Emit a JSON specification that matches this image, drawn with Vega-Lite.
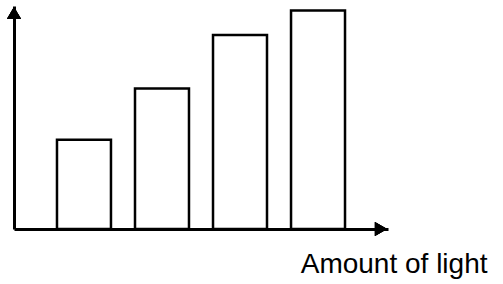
{
  "$schema": "https://vega.github.io/schema/vega-lite/v6.json",
  "width": 374,
  "height": 223,
  "autosize": "none",
  "padding": {"left": 14, "top": 6, "right": 115, "bottom": 55},
  "background": "white",
  "config": {"view": {"stroke": null}},
  "data": {"values": [
    {"condition": "A", "value": 4.0},
    {"condition": "B", "value": 6.3},
    {"condition": "C", "value": 8.7},
    {"condition": "D", "value": 9.8}
  ]},
  "layer": [
    {
      "mark": {"type": "bar", "fill": "white", "stroke": "black", "strokeWidth": 2.5},
      "encoding": {
        "x": {"field": "condition", "type": "nominal",
          "scale": {"paddingInner": 0.308, "paddingOuter": 0.551},
          "axis": {"labels": false, "ticks": false, "domainColor": "black", "domainWidth": 3,
            "title": "Amount of light", "titleFont": "Liberation Sans", "titleFontSize": 28,
            "titleFontWeight": "normal", "titleColor": "black", "titleAnchor": null,
            "titleX": 473, "titleY": 43, "titleAlign": "right", "titleBaseline": "alphabetic"}},
        "y": {"field": "value", "type": "quantitative",
          "scale": {"domain": [0, 10], "nice": false},
          "axis": {"labels": false, "ticks": false, "grid": false, "domainColor": "black", "domainWidth": 3, "title": null}}
      }
    },
    {
      "mark": {"type": "point", "shape": "triangle-up", "filled": true, "color": "black", "size": 200, "opacity": 1, "yOffset": 7},
      "encoding": {"x": {"value": 0}, "y": {"value": 0}}
    },
    {
      "mark": {"type": "point", "shape": "triangle-right", "filled": true, "color": "black", "size": 200, "opacity": 1, "xOffset": -7},
      "encoding": {"x": {"value": "width"}, "y": {"value": "height"}}
    }
  ]
}
